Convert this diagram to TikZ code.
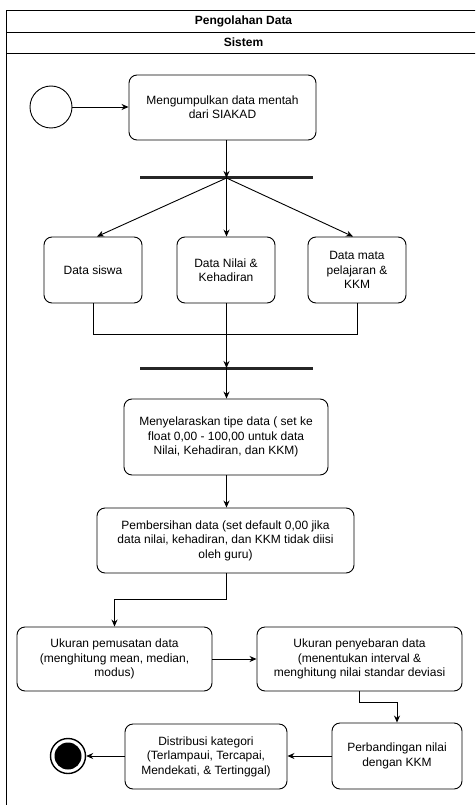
\documentclass[tikz,border=0pt]{standalone}
\usepackage{fontspec}
\setmainfont{Liberation Sans}
\usetikzlibrary{arrows.meta,positioning,calc}
\begin{document}
\begin{tikzpicture}[x=1pt,y=-1pt,
  every node/.style={font=\fontsize{12}{14.4}\selectfont},
  act/.style={draw, rounded corners=8pt, line width=0.9pt, align=center, inner sep=2pt},
  bar/.style={fill=black!85, draw=none, minimum width=173pt, minimum height=3pt, inner sep=0pt},
  conn/.style={line width=0.9pt},
  arr/.style={conn, -{Stealth[length=7pt,width=6pt]}},
  hdr/.style={font=\bfseries\fontsize{12}{14.4}\selectfont}]
\useasboundingbox (0,0) rectangle (475,805);
\clip (0,0) rectangle (475,805);
\fill[white] (0,0) rectangle (475,805);
% frame
\draw[line width=0.9pt] (6,10) rectangle (481,815);
\draw[line width=0.9pt] (6,32) -- (481,32);
\draw[line width=0.9pt] (6,53) -- (481,53);
\node[hdr] (h1) at (243.5,21) {Pengolahan Data};
\node[hdr] (h2) at (243.5,42.5) {Sistem};
% nodes
\node[draw, circle, minimum size=42pt, line width=0.9pt, inner sep=0pt] (start) at (51,107) {};
\node[act, minimum width=187pt, minimum height=65pt] (n1) at (222.5,107.5) {Mengumpulkan data mentah\\dari SIAKAD};
\node[bar] (bar1) at (226.5,178) {};
\node[act, minimum width=98pt, minimum height=66pt] (siswa) at (93,270) {Data siswa};
\node[act, minimum width=98pt, minimum height=66pt] (nilai) at (226,270) {Data Nilai \&\\Kehadiran};
\node[act, minimum width=98pt, minimum height=66pt] (mapel) at (357,270) {Data mata\\pelajaran \&\\KKM};
\node[bar] (bar2) at (226.5,368) {};
\node[act, minimum width=204pt, minimum height=76pt] (sel) at (226,437) {Menyelaraskan tipe data ( set ke\\float 0,00 - 100,00 untuk data\\Nilai, Kehadiran, dan KKM)};
\node[act, minimum width=257pt, minimum height=65pt] (bers) at (225.5,540.5) {Pembersihan data (set default 0,00 jika\\data nilai, kehadiran, dan KKM tidak diisi\\oleh guru)};
\node[act, minimum width=195pt, minimum height=64pt] (pem) at (114.5,659) {Ukuran pemusatan data\\(menghitung mean, median,\\modus)};
\node[act, minimum width=205pt, minimum height=64pt] (peny) at (359.5,659) {Ukuran penyebaran data\\(menentukan interval \&\\menghitung nilai standar deviasi};
\node[act, minimum width=130pt, minimum height=66pt] (perb) at (397,756) {Perbandingan nilai\\dengan KKM};
\node[act, minimum width=162pt, minimum height=65pt] (dist) at (206,756.5) {Distribusi kategori\\(Terlampaui, Tercapai,\\Mendekati, \& Tertinggal)};
\node[draw, circle, minimum size=35pt, line width=1.4pt, inner sep=0pt] (end) at (68,756) {};
\node[fill=black, circle, minimum size=27pt, inner sep=0pt] (endin) at (end.center) {};
% connectors
\draw[arr] (start.east) -- (n1.west |- start.east);
\draw[arr] (n1.south -| bar1.center) -- (bar1.center);
\draw[arr] (bar1.center) -- ($(siswa.north)+(4,0)$);
\draw[arr] (bar1.center) -- (nilai.north -| bar1.center);
\draw[arr] (bar1.center) -- ($(mapel.north)+(-4,0)$);
\draw[conn] (siswa.south) -- ++(0,31) -| (mapel.south);
\draw[arr] (nilai.south -| bar2.center) -- (bar2.center);
\draw[arr] (bar2.center) -- (sel.north -| bar2.center);
\draw[arr] (sel.south -| bar2.center) -- (bers.north -| bar2.center);
\draw[arr] (bers.south -| bar2.center) -- ++(0,26) -| (pem.north);
\draw[arr] (pem.east) -- (peny.west);
\draw[arr] (peny.south) -- ++(0,11) -| (perb.north);
\draw[arr] (perb.west) -- (dist.east |- perb.west);
\draw[arr] (dist.west |- end.east) -- (end.east);
\end{tikzpicture}
\end{document}
